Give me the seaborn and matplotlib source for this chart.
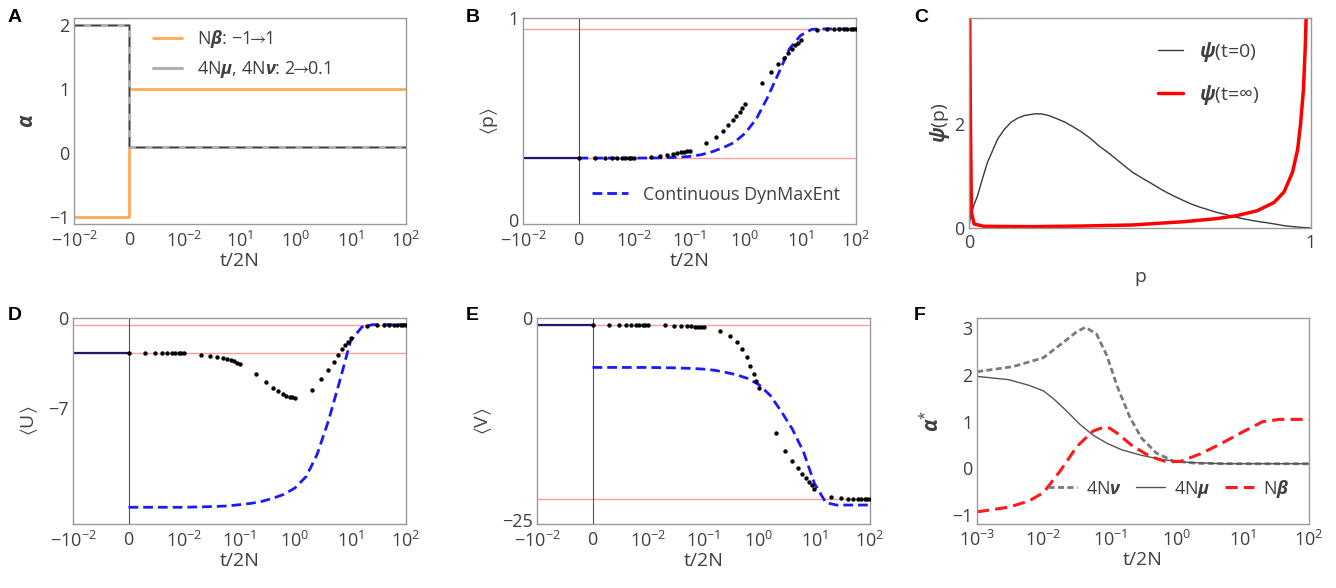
import numpy as np
import seaborn as sns
import matplotlib
matplotlib.use("Agg")
import matplotlib.pyplot as plt
import matplotlib.transforms as mtransforms
from matplotlib.ticker import NullLocator
from matplotlib.lines import Line2D

sns.set_style("white")
plt.rcParams["font.family"] = ["Open Sans", "DejaVu Sans"]
plt.rcParams["mathtext.fontset"] = "custom"
plt.rcParams["mathtext.rm"] = "Open Sans"
plt.rcParams["mathtext.it"] = "Open Sans:italic"
plt.rcParams["mathtext.bf"] = "Open Sans:italic:bold"
plt.rcParams["mathtext.fallback"] = "stixsans"

TXT = "#404040"

# ---- time axis (-10^-2 .. 0 linear, then decades) ----
t_ticks = [-0.01, 0, 0.01, 0.1, 1, 10, 100]
t_labels = [r"$-10^{-2}$", "0", r"$10^{-2}$", r"$10^{-1}$", r"$10^{0}$", r"$10^{1}$", r"$10^{2}$"]
t_labels_A = [r"$-10^{-2}$", "0", r"$10^{-2}$", r"$10^{1}$", r"$10^{0}$", r"$10^{1}$", r"$10^{2}$"]

# ---- panel A: protocol ----
t_step = [-0.01, 0, 0, 100]
nbeta_step = [-1, -1, 1, 1]
mut_step = [2, 2, 0.1, 0.1]

# ---- simulation (dots) ----
t_sim = [0.001, 0.002, 0.003, 0.004, 0.005, 0.006, 0.007, 0.008, 0.009,
         0.01, 0.02, 0.03, 0.04, 0.05, 0.06, 0.07, 0.08, 0.09,
         0.1, 0.2, 0.3, 0.4, 0.5, 0.6, 0.7, 0.8, 0.9,
         1, 2, 3, 4, 5, 6, 7, 8, 9,
         10, 20, 30, 40, 50, 60, 70, 80, 90, 100]
p_sim = [0.32] * 9 + [0.32, 0.325, 0.33, 0.334, 0.338, 0.343, 0.348, 0.351, 0.353,
                      0.356, 0.392, 0.424, 0.451, 0.479, 0.503, 0.526, 0.545, 0.561,
                      0.581, 0.683, 0.739, 0.778, 0.807, 0.831, 0.849, 0.868, 0.879,
                      0.892, 0.942, 0.945, 0.947, 0.947, 0.947, 0.947, 0.947, 0.947, 0.947]
U_sim = [-2.72] * 9 + [-2.72, -2.85, -2.93, -3.0, -3.09, -3.17, -3.27, -3.37, -3.47,
                       -3.58, -4.36, -5.0, -5.4, -5.7, -5.9, -6.04, -6.12, -6.17,
                       -6.2, -5.6, -4.75, -4.02, -3.45, -2.85, -2.41, -2.13, -1.9,
                       -1.55, -0.65, -0.55, -0.52, -0.52, -0.52, -0.52, -0.52, -0.52, -0.52]
V_sim = [-0.9] * 9 + [-0.9, -0.9, -0.93, -0.96, -1.0, -1.03, -1.06, -1.1, -1.13,
                      -1.15, -1.54, -2.15, -2.92, -3.77, -4.74, -5.8, -6.77, -7.7,
                      -8.5, -13.9, -16.1, -17.3, -18.2, -18.9, -19.4, -19.85, -20.3,
                      -20.7, -21.75, -21.9, -21.95, -21.95, -21.95, -21.95, -21.95, -21.95, -21.95]

# ---- continuous DynMaxEnt ----
t_cont = [0.001, 0.003, 0.01, 0.03, 0.06, 0.1, 0.16, 0.25, 0.4, 0.63,
          1, 1.6, 2.5, 4, 6.3, 10, 16, 25, 50, 100]
p_cont = [0.32, 0.32, 0.32, 0.321, 0.324, 0.328, 0.336, 0.35, 0.37, 0.395,
          0.44, 0.51, 0.61, 0.73, 0.85, 0.915, 0.945, 0.947, 0.947, 0.947]
U_cont = [-14.7, -14.7, -14.7, -14.65, -14.6, -14.5, -14.4, -14.25, -14.0, -13.7,
          -13.2, -12.3, -10.6, -8.0, -5.0, -1.8, -0.7, -0.52, -0.52, -0.52]
V_cont = [-6.0, -6.0, -6.0, -6.05, -6.12, -6.2, -6.35, -6.6, -6.9, -7.35,
          -8.1, -9.4, -11.3, -13.5, -16.2, -20.1, -22.4, -22.7, -22.7, -22.7]

t_pre = [-0.01, 0]
p_levels = [0.32, 0.947]
U_levels = [-2.72, -0.52]
V_levels = [-0.9, -22.0]

# ---- panel C: distributions ----
p_psi0 = [0, 0.003, 0.012, 0.025, 0.04, 0.054, 0.07, 0.084, 0.103, 0.123, 0.143, 0.163,
          0.192, 0.212, 0.232, 0.256, 0.281, 0.305, 0.33, 0.355, 0.379, 0.404,
          0.429, 0.453, 0.478, 0.503, 0.527, 0.552, 0.576, 0.6, 0.626, 0.65, 0.675,
          0.7, 0.724, 0.75, 0.773, 0.8, 0.823, 0.85, 0.872, 0.9, 0.921, 0.945, 0.97, 1]
psi0 = [0, 0.17, 0.4, 0.62, 0.96, 1.26, 1.5, 1.71, 1.89, 2.03, 2.11, 2.16,
        2.19, 2.19, 2.16, 2.1, 2.03, 1.94, 1.84, 1.72, 1.58, 1.46,
        1.33, 1.2, 1.07, 0.97, 0.88, 0.78, 0.69, 0.61, 0.53, 0.46, 0.40,
        0.35, 0.30, 0.26, 0.22, 0.18, 0.15, 0.12, 0.10, 0.07, 0.045, 0.028, 0.013, 0]
p_psiinf = [0.002, 0.004, 0.007, 0.015, 0.044, 0.182, 0.33, 0.478, 0.626, 0.724,
            0.783, 0.842, 0.892, 0.921, 0.946, 0.961, 0.970, 0.978, 0.983, 0.986]
psiinf = [4.1, 2.16, 0.30, 0.077, 0.032, 0.026, 0.038, 0.058, 0.12, 0.18,
          0.237, 0.33, 0.49, 0.69, 1.07, 1.51, 2.03, 2.67, 3.44, 4.08]

# ---- panel F: inferred parameters ----
t_nu = [0.001, 0.0035, 0.01, 0.02, 0.032, 0.043, 0.063, 0.09, 0.13, 0.2, 0.3, 0.5, 0.9, 2, 10, 100]
nu_f = [2.07, 2.18, 2.37, 2.7, 2.93, 3.02, 2.88, 2.42, 1.75, 1.1, 0.65, 0.33, 0.16, 0.11, 0.1, 0.1]
t_mu = [0.001, 0.003, 0.006, 0.01, 0.014, 0.022, 0.035, 0.055, 0.09, 0.15, 0.3, 0.6, 1.5, 5, 100]
mu_f = [1.97, 1.9, 1.78, 1.66, 1.5, 1.24, 0.95, 0.72, 0.54, 0.4, 0.28, 0.19, 0.13, 0.1, 0.1]
t_beta = [0.001, 0.003, 0.006, 0.01, 0.018, 0.032, 0.056, 0.08, 0.1, 0.13, 0.22, 0.4,
          0.72, 1.15, 2.3, 4.6, 10, 20, 36, 100]
beta_f = [-0.93, -0.83, -0.7, -0.52, -0.05, 0.47, 0.8, 0.88, 0.86, 0.75, 0.48, 0.26,
          0.14, 0.15, 0.31, 0.52, 0.78, 1.0, 1.05, 1.05]


def fwd(t):
    t = np.asarray(t, dtype=float)
    return np.where(t > 0, np.log10(np.maximum(t, 1e-3)) + 3, t * 100)


def inv(u):
    u = np.asarray(u, dtype=float)
    return np.where(u > 0, 10 ** (np.minimum(u, 10) - 3), u / 100)


def style_ax(ax, xpad=3):
    for s in ax.spines.values():
        s.set_color("#9a9a9a")
        s.set_linewidth(1)
    ax.tick_params(direction="in", length=3, color="#c8c8c8", labelsize=13,
                   labelcolor=TXT, pad=3)
    ax.tick_params(axis="x", pad=xpad)


def time_axis(ax, labels):
    ax.set_xscale("function", functions=(fwd, inv))
    ax.set_xlim(-0.01, 100)
    ax.set_xticks(t_ticks)
    ax.set_xticklabels(labels)
    ax.xaxis.set_minor_locator(NullLocator())
    ax.set_xlabel("t/2N", fontsize=14, color=TXT, labelpad=1)


fig = plt.figure(figsize=(13.36, 5.88), dpi=100)
W, H = 1336, 588


def add_ax(l, r, t, b):
    return fig.add_axes([l / W, 1 - b / H, (r - l) / W, (b - t) / H])


axA = add_ax(74, 406, 18, 224)
axB = add_ax(523, 856, 18, 224)
axC = add_ax(969, 1311, 18, 228)
axD = add_ax(73, 406, 318, 524)
axE = add_ax(537, 870, 318, 524)
axF = add_ax(977, 1309, 318, 524)

# ---- A ----
time_axis(axA, t_labels_A)
sns.lineplot(x=t_step, y=nbeta_step, ax=axA, color="#ffaa55", lw=2, estimator=None, sort=False)
sns.lineplot(x=t_step, y=mut_step, ax=axA, color="#b0b0b0", lw=2.2, estimator=None, sort=False)
sns.lineplot(x=t_step, y=mut_step, ax=axA, color="#404040", lw=1, estimator=None, sort=False,
             linestyle=(0, (7, 5)))
axA.set_ylim(-1.11, 2.11)
axA.set_yticks([-1, 0, 1, 2])
axA.set_ylabel(r"$\mathbf{\alpha}$", fontsize=15, color=TXT, labelpad=8)
hA = [Line2D([], [], color="#ffaa55", lw=2), Line2D([], [], color="#b0b0b0", lw=2.2)]
axA.legend(hA, [r"N$\mathbf{\beta}$: $-1\!\!\rightarrow\!\!1$",
                r"4N$\mathbf{\mu}$, 4N$\mathbf{\nu}$: $2\!\!\rightarrow\!\!0.1$"],
           loc="upper left", bbox_to_anchor=(0.19, 1.03), frameon=False, fontsize=13,
           handlelength=1.6, labelspacing=0.5, labelcolor=TXT)

# ---- B, D, E ----
panels = [(axB, p_sim, p_cont, p_levels, (0, 1), [0, 1], r"$\langle$p$\rangle$"),
          (axD, U_sim, U_cont, U_levels, (-16, 0), [-7, 0], r"$\langle$U$\rangle$"),
          (axE, V_sim, V_cont, V_levels, (-25, 0), [-25, 0], r"$\langle$V$\rangle$")]
for ax, sim, cont, lev, ylim, yt, lab in panels:
    time_axis(ax, t_labels)
    for y in lev:
        ax.axhline(y, color="#ff9c9c", lw=1, zorder=1)
    ax.axvline(0, color="#555555", lw=0.8, zorder=1)
    sns.lineplot(x=t_pre, y=[lev[0], lev[0]], ax=ax, color="#1c1c6e", lw=1.6,
                 estimator=None, sort=False, zorder=2)
    sns.lineplot(x=t_cont, y=cont, ax=ax, color="#1a1aff", lw=2, estimator=None, sort=False,
                 linestyle=(0, (3.5, 1.8)), zorder=2)
    sns.scatterplot(x=t_sim, y=sim, ax=ax, color="black", s=10, linewidth=0, zorder=3)
    ax.set_ylim(*ylim)
    ax.set_yticks(yt)
    ax.set_ylabel(lab, fontsize=14, color=TXT, labelpad=6)

hB = [Line2D([], [], color="#1a1aff", lw=2, linestyle=(0, (3.5, 1.8)))]
axB.legend(hB, ["Continuous DynMaxEnt"], loc="lower right", bbox_to_anchor=(1.0, 0.02),
           frameon=False, fontsize=13, handlelength=2.0, labelcolor=TXT)

# ---- C ----
sns.lineplot(x=p_psi0, y=psi0, ax=axC, color="#3a3a3a", lw=1, estimator=None, sort=False)
sns.lineplot(x=p_psiinf, y=psiinf, ax=axC, color="#ff0000", lw=2.5, estimator=None, sort=False)
axC.set_xlim(0, 1)
axC.set_ylim(0, 4.03)
axC.set_xticks([0, 1])
axC.set_yticks([0, 2])
axC.set_xlabel("p", fontsize=14, color=TXT, labelpad=12)
axC.set_ylabel(r"$\mathbf{\psi}$(p)", fontsize=14, color=TXT, labelpad=2)
hC = [Line2D([], [], color="#3a3a3a", lw=1), Line2D([], [], color="#ff0000", lw=2.5)]
axC.legend(hC, [r"$\mathbf{\psi}$(t=0)", r"$\mathbf{\psi}$(t=$\infty$)"], loc="upper right",
           bbox_to_anchor=(0.9, 0.98), frameon=False, fontsize=14, handlelength=1.3,
           labelspacing=1.0, labelcolor=TXT)

# ---- F ----
axF.set_xscale("log")
sns.lineplot(x=t_nu, y=nu_f, ax=axF, color="#7a7a7a", lw=2, estimator=None, sort=False,
             linestyle=(0, (2.2, 1.2)))
sns.lineplot(x=t_mu, y=mu_f, ax=axF, color="#555555", lw=1, estimator=None, sort=False)
sns.lineplot(x=t_beta, y=beta_f, ax=axF, color="#ff1a1a", lw=2.2, estimator=None, sort=False,
             linestyle=(0, (4, 2)))
axF.set_xlim(1e-3, 100)
axF.set_ylim(-1.19, 3.22)
axF.set_xticks([1e-3, 1e-2, 1e-1, 1, 10, 100])
axF.set_xticklabels([r"$10^{-3}$", r"$10^{-2}$", r"$10^{-1}$", r"$10^{0}$", r"$10^{1}$", r"$10^{2}$"])
axF.xaxis.set_minor_locator(NullLocator())
axF.set_yticks([-1, 0, 1, 2, 3])
axF.set_xlabel("t/2N", fontsize=14, color=TXT, labelpad=1)
axF.set_ylabel(r"$\mathbf{\alpha}^{*}$", fontsize=15, color=TXT, labelpad=6)
hF = [Line2D([], [], color="#7a7a7a", lw=2, linestyle=(0, (2.2, 1.2))),
      Line2D([], [], color="#555555", lw=1),
      Line2D([], [], color="#ff1a1a", lw=2.2, linestyle=(0, (4, 2)))]
axF.legend(hF, [r"4N$\mathbf{\nu}$", r"4N$\mathbf{\mu}$", r"N$\mathbf{\beta}$"], loc="lower right",
           bbox_to_anchor=(0.99, 0.04), frameon=False, fontsize=13, ncol=3,
           handlelength=1.6, columnspacing=0.8, handletextpad=0.5, labelcolor=TXT)

for ax in [axA, axB, axD, axE]:
    style_ax(ax, xpad=5)
for ax in [axC, axF]:
    style_ax(ax, xpad=4)

# lift the lowest y tick label of B and E a little so it clears the x labels
lift = mtransforms.ScaledTranslation(0, 4 / 100, fig.dpi_scale_trans)
for ax in [axB, axE]:
    lbl = ax.get_yticklabels()[0]
    lbl.set_transform(lbl.get_transform() + lift)

for lab, x, y in [("A", 8, 9), ("B", 466, 9), ("C", 914, 9),
                  ("D", 8, 307), ("E", 466, 307), ("F", 914, 307)]:
    fig.text(x / W, 1 - y / H, lab, fontsize=14, fontweight="bold",
             family="Liberation Sans", va="top", ha="left", color="black")

fig.savefig("out.png", dpi=100)
